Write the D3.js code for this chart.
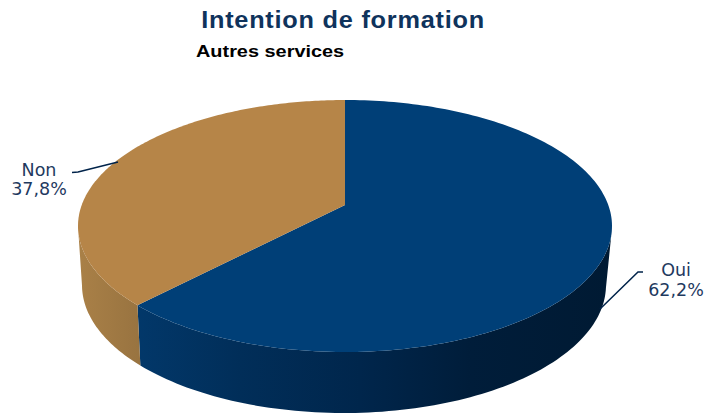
<!DOCTYPE html>
<html>
<head>
<meta charset="utf-8">
<title>Intention de formation</title>
<script src="https://cdn.jsdelivr.net/npm/d3@7"></script>
<style>
    html, body { margin: 0; padding: 0; background: #fff; }
    svg { display: block; }
</style>
</head>
<body>
<svg id="chart"></svg>
<script>
    //Data
    const categories = ["Oui", "Non"]
    const values = [62.2, 37.8]
    const valueLabels = ["62,2%", "37,8%"]

    const WIDTH = 705
    const HEIGHT = 413
    const TOP_COLORS = ["#003F77", "#B68548"]
    const WALL_COLORS = [
        [[135, "#02386A"], [240, "#012E59"], [360, "#00264C"], [470, "#001D3A"], [610, "#001A33"]],
        [[80, "#A98047"], [141, "#987340"]]
    ]

    //Ellipses of the top face and of the bottom edge of the wall
    const TOP = {cx: 345, cy: 226, rx: 267, ry: 126}
    const BOTTOM = {cx: 344, cy: 285, rx: 262, ry: 128}
    //Apex of the slices: the tilted disc has its centre above the ellipse centre
    const APEX = {x: 345, y: 205}
    const TILT = 1 / 6
    const DISC_A = TOP.rx * Math.sqrt(1 - TILT * TILT)
    const DISC_B = 122.5

    const svg = d3.select("#chart").attr("width", WIDTH).attr("height", HEIGHT)

    //Angle on the disc -> position on the screen (perspective)
    function project(angle) {
        const s = Math.sin(angle), v = -Math.cos(angle)
        const w = 1 - TILT * v
        return [APEX.x + DISC_A * s / w, APEX.y + DISC_B * v / w]
    }

    //Same point of the rim, moved on to the bottom ellipse
    function dropToBottom(p) {
        const a = Math.atan2((p[1] - TOP.cy) / TOP.ry, (p[0] - TOP.cx) / TOP.rx)
        return [BOTTOM.cx + BOTTOM.rx * Math.cos(a), BOTTOM.cy + BOTTOM.ry * Math.sin(a)]
    }

    function rim(d) {
        return d3.range(0, 181).map(i => project(d.startAngle + (d.endAngle - d.startAngle) * i / 180))
    }

    const pie = d3.pie().sort(null).startAngle(0).endAngle(2 * Math.PI)
    const slices = pie(values)
    const line = d3.line()

    //Shading of the walls
    const defs = svg.append("defs")
    WALL_COLORS.forEach((stops, i) => {
        const grad = defs.append("linearGradient")
            .attr("id", "wall" + i)
            .attr("gradientUnits", "userSpaceOnUse")
            .attr("x1", stops[0][0]).attr("x2", stops[stops.length - 1][0])
            .attr("y1", 0).attr("y2", 0)
        const offset = d3.scaleLinear().domain([stops[0][0], stops[stops.length - 1][0]]).range([0, 1])
        stops.forEach(s => grad.append("stop").attr("offset", offset(s[0])).attr("stop-color", s[1]))
    })

    //Walls: only the front half of the rim shows
    svg.append("g").selectAll("path")
        .data(slices)
        .join("path")
        .attr("fill", (d, i) => `url(#wall${i})`)
        .attr("d", d => {
            const front = rim(d).filter(p => p[1] >= TOP.cy)
            return line(front.concat(front.map(dropToBottom).reverse())) + "Z"
        })

    //Top face
    svg.append("g").selectAll("path")
        .data(slices)
        .join("path")
        .attr("fill", (d, i) => TOP_COLORS[i])
        .attr("d", d => line([[APEX.x, APEX.y]].concat(rim(d))) + "Z")

    //Leader lines
    const LEADERS = [
        [[600, 309], [638, 272], [643, 272]],
        [[118, 162], [78, 172], [72, 172.5]]
    ]
    svg.append("g").selectAll("path")
        .data(LEADERS)
        .join("path")
        .attr("fill", "none")
        .attr("stroke", "#00234A")
        .attr("stroke-width", 1.5)
        .attr("d", line)

    //Labels
    const LABEL_POS = [
        {x: 676, y1: 276, y2: 296},
        {x: 39, y1: 175.5, y2: 195}
    ]
    const labels = svg.append("g")
        .attr("font-family", "'DejaVu Sans', Verdana, sans-serif")
        .attr("font-size", 17.5)
        .attr("fill", "#1F3A5F")
        .attr("text-anchor", "middle")
    categories.forEach((c, i) => {
        labels.append("text").attr("x", LABEL_POS[i].x).attr("y", LABEL_POS[i].y1).text(c)
        labels.append("text").attr("x", LABEL_POS[i].x).attr("y", LABEL_POS[i].y2).text(valueLabels[i])
    })

    //Titles: the originals are stretched sideways
    svg.append("text")
        .attr("transform", "translate(343,28) scale(1.1,1)")
        .attr("text-anchor", "middle")
        .attr("font-family", "'Liberation Sans', Arial, sans-serif")
        .attr("font-weight", "bold")
        .attr("font-size", 23)
        .attr("letter-spacing", 0.7)
        .attr("fill", "#0F335C")
        .text("Intention de formation")
    svg.append("text")
        .attr("transform", "translate(196,57) scale(1.17,1)")
        .attr("font-family", "'Liberation Sans', Arial, sans-serif")
        .attr("font-weight", "bold")
        .attr("font-size", 17)
        .attr("fill", "#000")
        .text("Autres services")
</script>
</body>
</html>
